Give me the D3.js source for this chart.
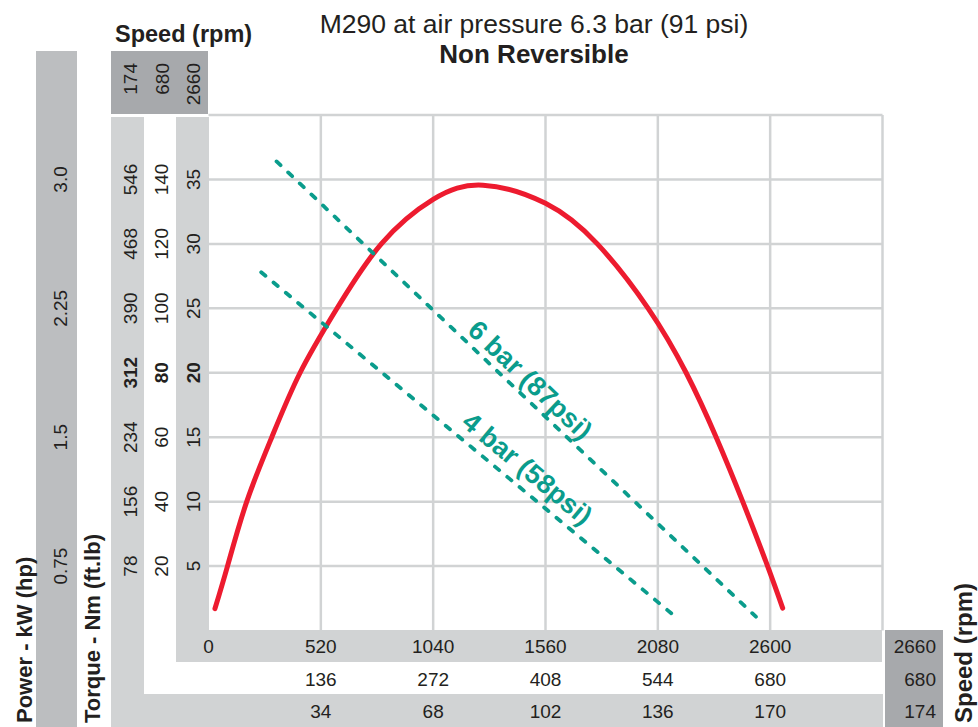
<!DOCTYPE html>
<html>
<head>
<meta charset="utf-8">
<script src="https://cdn.jsdelivr.net/npm/d3@7"></script>
<style>
  body { margin: 0; background: #fff; }
  svg text { font-family: "Liberation Sans", Arial, sans-serif; fill: #231f20; }
</style>
</head>
<body>
<svg id="chart" width="978" height="727"></svg>
<script>
// curve: torque (Nm) against speed (rpm)
var curveRpm = [30, 88, 177, 293, 424, 595, 800, 1040, 1271, 1560, 1800, 2035, 2211, 2350, 2473, 2588, 2658];
var curveNm = [1.7, 5, 10, 15, 20, 25, 30, 33.45, 34.55, 33.15, 30, 25, 20, 15, 10, 5, 1.74];

// pressure lines (dashed)
var pressureNames = ['6 bar (87psi)', '4 bar (58psi)'];
var pressureStart = [[315, 36.4], [244, 27.8]];
var pressureEnd = [[2534, 1.07], [2142, 1.34]];
var labelAt = [1171, 1136];
var labelGap = [-7, -10];

// tick labels
var rpmTicks = [0, 520, 1040, 1560, 2080, 2600];
var row2Labels = ['', '136', '272', '408', '544', '680'];
var row3Labels = ['', '34', '68', '102', '136', '170'];
var nmTicks = [5, 10, 15, 20, 25, 30, 35];
var ftlbLabels = ['20', '40', '60', '80', '100', '120', '140'];
var hpLabels = ['78', '156', '234', '312', '390', '468', '546'];
var kwTicks = [5, 15, 25, 35];
var kwLabels = ['0.75', '1.5', '2.25', '3.0'];
var boldTick = 20;
var speedBox = ['174', '680', '2660'];
var speedBoxRight = ['2660', '680', '174'];

var svg = d3.select('#chart');

var x = d3.scaleLinear().domain([0, 3120]).range([208.5, 882.5]);
var y = d3.scaleLinear().domain([0, 40]).range([630.5, 115]);

var light = '#d1d3d4', mid = '#bcbec0', dark = '#a7a9ac';
var teal = '#0a9c8c', red = '#ed1b2f';

// background bands
svg.append('rect').attr('x', 36).attr('y', 51).attr('width', 41).attr('height', 676).attr('fill', mid);
svg.append('rect').attr('x', 111).attr('y', 51).attr('width', 97).attr('height', 63).attr('fill', dark);
svg.append('rect').attr('x', 111).attr('y', 117).attr('width', 33).attr('height', 610).attr('fill', light);
svg.append('rect').attr('x', 111).attr('y', 694).attr('width', 772).attr('height', 33).attr('fill', light);
svg.append('rect').attr('x', 176).attr('y', 117).attr('width', 33).attr('height', 545).attr('fill', light);
svg.append('rect').attr('x', 176).attr('y', 630).attr('width', 706).attr('height', 32).attr('fill', light);
svg.append('rect').attr('x', 885).attr('y', 630).attr('width', 58).attr('height', 97).attr('fill', dark);

// grid
var grid = svg.append('g').attr('stroke', light).attr('stroke-width', 2.5);
grid.selectAll('.vg')
    .data(rpmTicks.slice(1).concat([3120]))
    .enter()
    .append('line')
    .attr('x1', d => x(d)).attr('x2', d => x(d))
    .attr('y1', y(40)).attr('y2', y(0));
grid.selectAll('.hg')
    .data(nmTicks.concat([40]))
    .enter()
    .append('line')
    .attr('x1', x(0)).attr('x2', x(3120))
    .attr('y1', d => y(d)).attr('y2', d => y(d));

// titles
svg.append('text').attr('x', 534).attr('y', 33).attr('text-anchor', 'middle')
    .attr('font-size', 26.5).text('M290 at air pressure 6.3 bar (91 psi)');
svg.append('text').attr('x', 534).attr('y', 63).attr('text-anchor', 'middle')
    .attr('font-size', 26).attr('font-weight', 'bold').text('Non Reversible');
svg.append('text').attr('x', 115).attr('y', 42)
    .attr('font-size', 23.5).attr('font-weight', 'bold').text('Speed (rpm)');

function vText(tx, ty, str, anchor, size, bold) {
    svg.append('text')
        .attr('transform', 'translate(' + tx + ',' + ty + ') rotate(-90)')
        .attr('text-anchor', anchor)
        .attr('font-size', size)
        .attr('font-weight', bold ? 'bold' : 'normal')
        .text(str);
}

vText(32, 723, 'Power - kW (hp)', 'start', 22, true);
vText(100, 723, 'Torque - Nm (ft.lb)', 'start', 22, true);
vText(972, 723, 'Speed (rpm)', 'start', 24, true);

// top-left speed box
speedBox.forEach((s, i) => vText(137 + i * 31.5, 63, s, 'end', 19, false));

// left columns
nmTicks.forEach((v, i) => {
    var b = v == boldTick;
    vText(200, y(v), String(v), 'middle', 19, b);
    vText(168, y(v), ftlbLabels[i], 'middle', 19, b);
    vText(137, y(v), hpLabels[i], 'middle', 19, b);
});
kwTicks.forEach((v, i) => vText(67, y(v), kwLabels[i], 'middle', 19, false));

// bottom rows
var rows = svg.append('g').attr('font-size', 19).attr('text-anchor', 'middle');
rows.selectAll('.r1').data(rpmTicks).enter().append('text')
    .attr('x', d => x(d)).attr('y', 653).text(d => d);
rows.selectAll('.r2').data(rpmTicks).enter().append('text')
    .attr('x', d => x(d)).attr('y', 686).text((d, i) => row2Labels[i]);
rows.selectAll('.r3').data(rpmTicks).enter().append('text')
    .attr('x', d => x(d)).attr('y', 718).text((d, i) => row3Labels[i]);
speedBoxRight.forEach((s, i) => {
    svg.append('text').attr('x', 936).attr('y', 653 + i * 32.5)
        .attr('text-anchor', 'end').attr('font-size', 19).text(s);
});

// torque curve
var line = d3.line()
    .x(d => x(d[0]))
    .y(d => y(d[1]))
    .curve(d3.curveNatural);
svg.append('path')
    .datum(curveRpm.map((r, i) => [r, curveNm[i]]))
    .attr('d', line)
    .attr('fill', 'none')
    .attr('stroke', red)
    .attr('stroke-width', 5)
    .attr('stroke-linecap', 'round');

// pressure lines + labels
pressureNames.forEach((name, i) => {
    var s = pressureStart[i], e = pressureEnd[i];
    svg.append('line')
        .attr('x1', x(s[0])).attr('y1', y(s[1]))
        .attr('x2', x(e[0])).attr('y2', y(e[1]))
        .attr('stroke', teal)
        .attr('stroke-width', 3.8)
        .attr('stroke-dasharray', '5.5,10.5')
        .attr('stroke-linecap', 'round');
    var ang = Math.atan2(y(e[1]) - y(s[1]), x(e[0]) - x(s[0])) * 180 / Math.PI;
    var t = (labelAt[i] - s[0]) / (e[0] - s[0]);
    var nm = s[1] + t * (e[1] - s[1]);
    svg.append('text')
        .attr('transform', 'translate(' + x(labelAt[i]) + ',' + y(nm) + ') rotate(' + ang + ')')
        .attr('dy', labelGap[i])
        .attr('font-size', 27)
        .attr('font-weight', 'bold')
        .style('fill', teal)
        .text(name);
});
</script>
</body>
</html>
